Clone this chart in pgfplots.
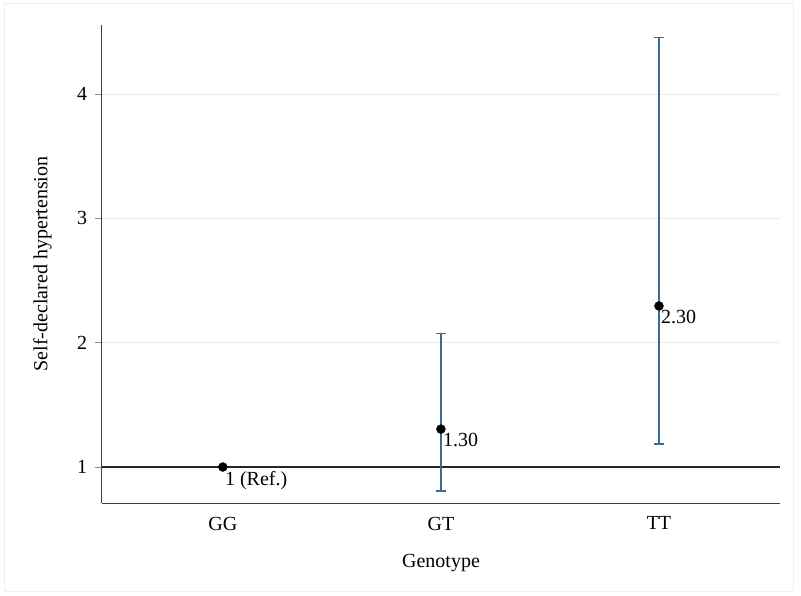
\documentclass[border=0pt]{standalone}
\usepackage{pgfplots}
\usepackage{pgfplotstable}
\pgfplotsset{compat=1.18}
\usepackage{fontspec}
\setmainfont{Liberation Serif}
\definecolor{barblue}{HTML}{3A6A98}
\definecolor{gridgray}{HTML}{EBEBEB}
\pgfplotstableread{
x y lo hi
1 1.305 0.807 2.075
2 2.295 1.185 4.455
}\citable
\begin{document}
\begin{tikzpicture}[x=1pt,y=1pt]
\fontsize{20}{24}\selectfont
\path[use as bounding box] (0,0) rectangle (801,595);
\draw[color=black!6, line width=1pt] (4,4) rectangle (793,591);
\begin{axis}[
  at={(102pt,92pt)}, anchor=south west,
  scale only axis, width=678pt, height=478pt,
  xmin=-0.554, xmax=2.555, ymin=0.711, ymax=4.554,
  axis x line*=bottom, axis y line*=left,
  axis line style={black!75, line width=1pt},
  xtick={0,1,2}, xticklabels={GG,GT,TT},
  ytick={1,2,3,4},
  major tick length=7pt,
  x tick style={draw=none},
  y tick style={black!45, line width=0.8pt},
  tick align=outside,
  ymajorgrids, grid style={gridgray, line width=0.8pt},
  xticklabel style={font=\fontsize{20}{24}\selectfont, yshift=0pt},
  yticklabel style={font=\fontsize{20}{24}\selectfont, xshift=-1pt},
  /pgf/number format/assume math mode=true,
  xlabel={Genotype}, ylabel={Self-declared hypertension},
  label style={font=\fontsize{20}{24}\selectfont},
  xlabel style={yshift=-10pt},
  ylabel style={yshift=12pt},
  clip=false,
]
\draw[black!85, line width=1.4pt] (axis cs:-0.554,1) -- (axis cs:2.555,1);
\addplot[draw=none, barblue, line width=1.6pt,
  error bars/.cd, y dir=both, y explicit,
  error bar style={barblue, line width=1.6pt},
  error mark options={rotate=90, mark size=5pt, line width=1.6pt, barblue}]
  table[x=x, y=y, y error plus expr=\thisrow{hi}-\thisrow{y}, y error minus expr=\thisrow{y}-\thisrow{lo}] {\citable};
\addplot[only marks, mark=*, mark size=4.5pt, black] coordinates {(0,1) (1,1.305) (2,2.295)};
\node[anchor=north west, inner sep=0pt] at ([xshift=2pt,yshift=-4pt]axis cs:0,1) {1 (Ref.)};
\node[anchor=north west, inner sep=0pt] at ([xshift=2pt,yshift=-4pt]axis cs:1,1.305) {1.30};
\node[anchor=north west, inner sep=0pt] at ([xshift=2pt,yshift=-4pt]axis cs:2,2.295) {2.30};
\end{axis}
\end{tikzpicture}
\end{document}
